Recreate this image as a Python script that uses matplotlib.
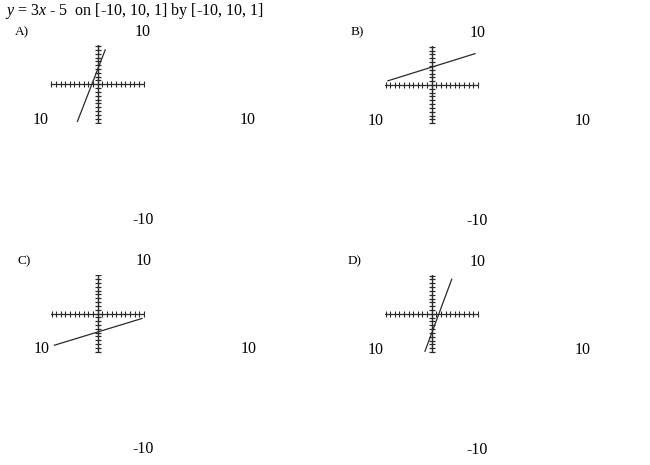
import matplotlib
matplotlib.use('Agg')
import matplotlib.pyplot as plt

plt.rcParams['font.family'] = 'Liberation Serif'
plt.rcParams['mathtext.fontset'] = 'custom'
plt.rcParams['mathtext.rm'] = 'Liberation Serif'
plt.rcParams['mathtext.it'] = 'Liberation Serif:italic'

title = r'$y$ = 3$x$ - 5  on [-10, 10, 1] by [-10, 10, 1]'
labels = ['A)', 'B)', 'C)', 'D)']
# line endpoints (window units)
line_x = [[-4.35, 1.67], [-9.5, 9.4], [-9.4, 9.6], [-1.46, 4.35]]
line_y = [[-9.7, 9.0], [1.1, 8.2], [-8.3, -1.3], [-9.8, 9.05]]
ticks = list(range(-10, 11))
window_labels = ['10', '10', '10', '-10']  # top, left, right, bottom

W, H = 650, 465
fig = plt.figure(figsize=(W / 100, H / 100), dpi=100)

def px(x, y):
    return x / W, 1 - y / H

fig.text(*px(5, 11), title, fontsize=11.5, ha='left', va='center')

# pixel centre of each graph and x of its letter
centres = [(97.5, 84.3), (431.7, 85), (97.7, 313.5), (431.7, 313.8)]
label_x = [15, 351, 17, 348]
dark = '#2a2a2a'

for i, (cx, cy) in enumerate(centres):
    hw, hh = 47, 39
    l, b = px(cx - hw, cy + hh)
    ax = fig.add_axes([l, b, 2 * hw / W, 2 * hh / H])
    ax.set_xlim(-10.2, 10.2)
    ax.set_ylim(-10.2, 10.2)
    ax.axis('off')
    ax.plot([-10.2, 10.2], [0, 0], color=dark, lw=0.9)
    ax.plot([0, 0], [-10.2, 10.2], color=dark, lw=1.0)
    ax.plot(ticks, [0] * len(ticks), ls='none', marker='|', ms=4.2, mew=0.8, color=dark)
    ax.plot([0] * len(ticks), ticks, ls='none', marker='_', ms=4.8, mew=0.9, color=dark)
    ax.plot(line_x[i], line_y[i], color=dark, lw=0.9)

    ox, oy = cx - 97.5, cy - 84.3
    fig.text(*px(label_x[i], 32 + oy), labels[i], fontsize=9.5, ha='left', va='center')
    fig.text(*px(143 + ox, 32 + oy), window_labels[0], fontsize=11.5, ha='center', va='center')
    fig.text(*px(41 + ox, 120 + oy), window_labels[1], fontsize=11.5, ha='center', va='center')
    fig.text(*px(248 + ox, 120 + oy), window_labels[2], fontsize=11.5, ha='center', va='center')
    fig.text(*px(143 + ox, 220 + oy), window_labels[3], fontsize=11.5, ha='center', va='center')

fig.savefig('out.png', dpi=100)
